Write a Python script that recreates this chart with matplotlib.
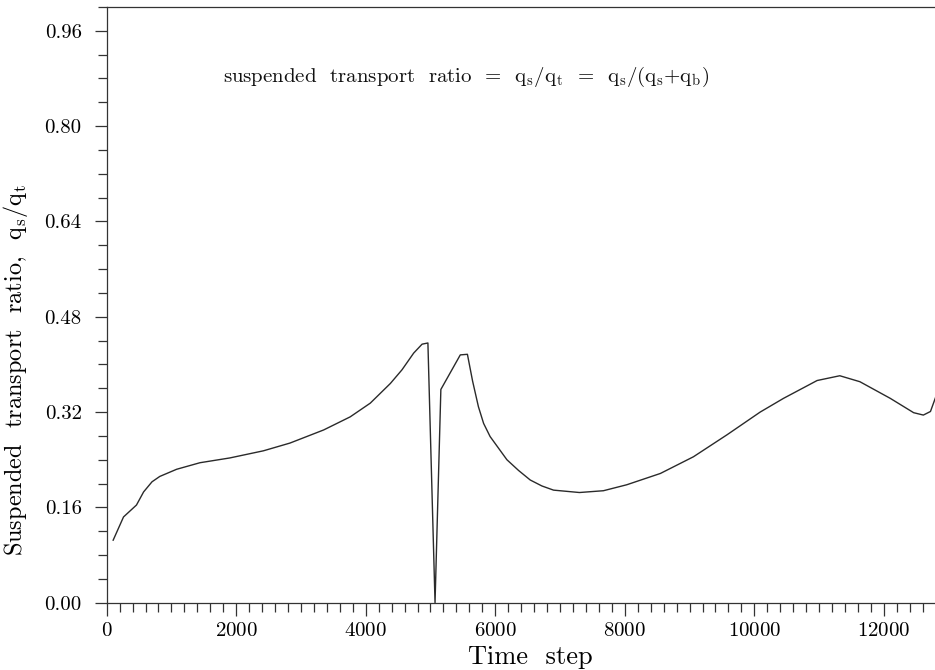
import matplotlib
matplotlib.use("Agg")
import matplotlib.pyplot as plt
from matplotlib.ticker import MultipleLocator, FormatStrFormatter

plt.rcParams['font.family'] = ['cmr10', 'DejaVu Serif']
plt.rcParams['mathtext.fontset'] = 'cm'
plt.rcParams['axes.formatter.use_mathtext'] = True

# suspended / total transport ratio against model time step
time_step = [100, 260, 460, 570, 700, 820, 1080, 1440, 1900, 2420, 2830,
             3350, 3760, 4070, 4380, 4560, 4740, 4870, 4960, 5070, 5160,
             5460, 5570, 5650, 5740, 5820, 5920, 6180, 6360, 6540, 6720,
             6900, 7300, 7670, 8030, 8550, 9060, 9580, 10090, 10450, 10970,
             11320, 11630, 12100, 12460, 12610, 12720, 12800, 12900]
ratio = [0.105, 0.144, 0.164, 0.186, 0.203, 0.212, 0.224, 0.235, 0.243,
         0.255, 0.268, 0.290, 0.312, 0.335, 0.368, 0.391, 0.419, 0.434,
         0.436, 0.0, 0.358, 0.416, 0.417, 0.372, 0.329, 0.301, 0.279,
         0.240, 0.222, 0.206, 0.196, 0.189, 0.185, 0.188, 0.198, 0.217,
         0.245, 0.282, 0.320, 0.343, 0.373, 0.381, 0.371, 0.343, 0.319,
         0.315, 0.321, 0.345, 0.38]

fig = plt.figure(figsize=(9.35, 6.7), dpi=100)
ax = fig.add_axes([0.1141, 0.1004, 0.8859, 0.8892])

ax.plot(time_step, ratio, color='#2a2a2a', lw=1.0)

ax.set_xlim(0, 12790)
ax.set_ylim(0, 1.0)
ax.spines['right'].set_visible(False)
for s in ('left', 'bottom', 'top'):
    ax.spines[s].set_linewidth(0.9)
    ax.spines[s].set_color('#333333')

ax.xaxis.set_major_locator(MultipleLocator(2000))
ax.xaxis.set_minor_locator(MultipleLocator(200))
ax.yaxis.set_major_locator(MultipleLocator(0.16))
ax.yaxis.set_minor_locator(MultipleLocator(0.04))
ax.yaxis.set_major_formatter(FormatStrFormatter('%.2f'))

ax.tick_params(which='major', direction='out', length=9, width=0.9,
               color='#333333', labelsize=15, pad=5)
ax.tick_params(which='minor', direction='out', length=6.5, width=0.9,
               color='#333333')
ax.tick_params(axis='y', which='major', pad=9)
ax.tick_params(top=False, right=False, which='both')

ax.set_xlabel('Time  step', fontsize=19)
ax.xaxis.set_label_coords(0.512, -0.072)
ax.set_ylabel(r'Suspended  transport  ratio,  q$_{\rm s}$/q$_{\rm t}$',
              fontsize=17.5)
ax.yaxis.set_label_coords(-0.092, 0.39)

ax.text(0.14, 0.875,
        r'suspended  transport  ratio  =  q$_{\rm s}$/q$_{\rm t}$  =  '
        r'q$_{\rm s}$/(q$_{\rm s}$+q$_{\rm b}$)',
        transform=ax.transAxes, fontsize=15, color='#111111')

fig.savefig('out.png', dpi=100)
